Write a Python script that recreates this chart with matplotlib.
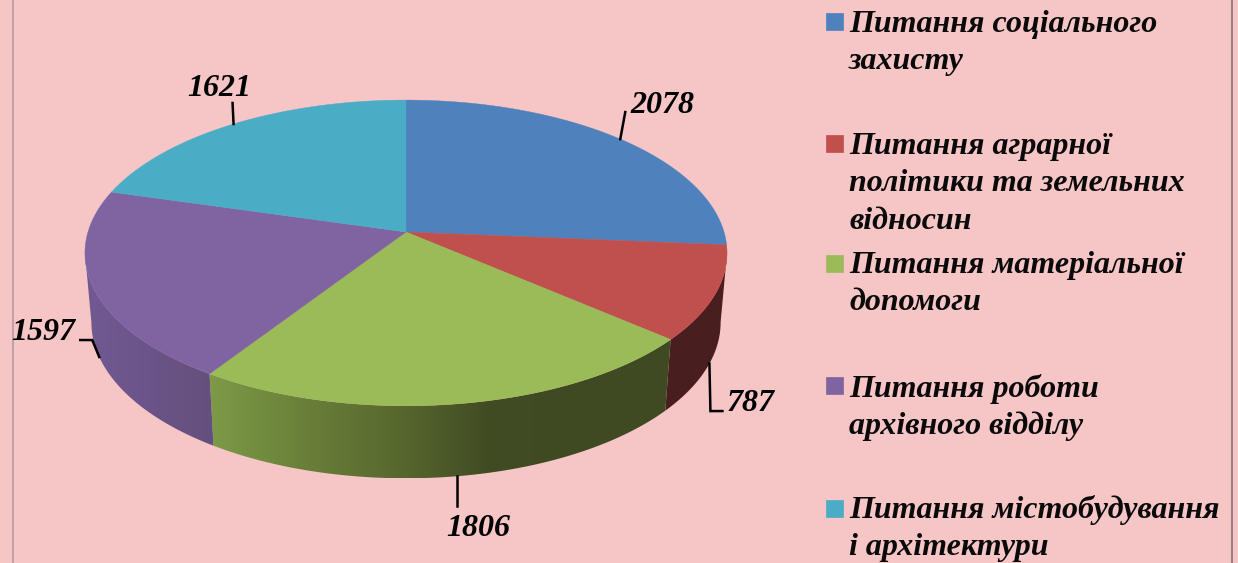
import numpy as np
import matplotlib
matplotlib.use("Agg")
import matplotlib.pyplot as plt
from matplotlib.patches import Polygon, Rectangle
from matplotlib.colors import LinearSegmentedColormap

# ---- data ----
categories = [
    "Питання соціального\nзахисту",
    "Питання аграрної\nполітики та земельних\nвідносин",
    "Питання матеріальної\nдопомоги",
    "Питання роботи\nархівного відділу",
    "Питання містобудування\nі архітектури",
]
values = [2078, 787, 1806, 1597, 1621]

# ---- style ----
top_colors = ["#4F81BD", "#C0504D", "#9BBB59", "#8064A2", "#4BACC6"]
side_stops = [
    ["#3B5F8C", "#3B5F8C"],
    ["#4A1E1E", "#4A1E1E"],
    ["#7D9A48", "#6A8039", "#58692F", "#414C23", "#3F4A23", "#3F4A23"],
    ["#715A92", "#6A5488", "#64507C"],
    ["#3A8296", "#3A8296"],
]
BG = "#F6C5C6"
FONT = "Liberation Serif"
CX, CY, R, H, K = 406, 232, 318, 150, 0.137   # perspective of the pie top
DROP, SHRINK_X, SHRINK_Y = 69, 0.98, 1.02     # depth of the pie wall

fig = plt.figure(figsize=(12.38, 5.63), dpi=100, facecolor=BG)
ax = fig.add_axes([0, 0, 1, 1])
ax.set_xlim(0, 1238)
ax.set_ylim(563, 0)
ax.axis("off")


def project(deg, bottom=False):
    t = np.radians(deg)
    x, y = np.sin(t), np.cos(t)
    d = 1 + K * y
    px, py = R * x / d, -H * y / d
    if bottom:
        return CX + SHRINK_X * px, CY + SHRINK_Y * py + DROP
    return CX + px, CY + py


fractions = np.array(values) / sum(values)
edges = np.concatenate([[0], np.cumsum(fractions) * 360])
mids = (edges[:-1] + edges[1:]) / 2

# angular range of the front wall: between the silhouette tangents
front_start = np.degrees(np.arccos(-K))
front_end = 360 - front_start

# walls, only the part of each slice that faces the viewer
for i in range(len(values)):
    lo, hi = max(edges[i], front_start), min(edges[i + 1], front_end)
    if hi <= lo:
        continue
    a = np.linspace(lo, hi, 200)
    tx, ty = project(a)
    bx, by = project(a, bottom=True)
    pts = np.column_stack([np.r_[tx, bx[::-1]], np.r_[ty, by[::-1]]])
    poly = Polygon(pts, closed=True, fc="none", ec="none", transform=ax.transData)
    ax.add_patch(poly)
    cmap = LinearSegmentedColormap.from_list(f"s{i}", side_stops[i])
    im = ax.imshow(np.linspace(0, 1, 256)[None, :], cmap=cmap, aspect="auto",
                   extent=(pts[:, 0].min(), pts[:, 0].max(), pts[:, 1].max(), pts[:, 1].min()),
                   zorder=2, interpolation="bilinear")
    im.set_clip_path(poly)

ax.set_xlim(0, 1238)
ax.set_ylim(563, 0)

# top face
for i, c in enumerate(top_colors):
    a = np.linspace(edges[i], edges[i + 1], 200)
    tx, ty = project(a)
    ax.add_patch(Polygon(np.column_stack([np.r_[CX, tx], np.r_[CY, ty]]), closed=True,
                         fc=c, ec=c, lw=0.3, zorder=3))

# data labels and leader lines: offsets from the anchor, label position, use of wall edge
label_spec = [
    (False, [(5, -27)], (10, -26)),
    (True, [(1, 47.5), (13, 47.5)], (17, 47.5)),
    (True, [(0, 30)], (-10, 60)),
    (True, [(-7, -17), (-19, -17)], (-88, -17)),
    (False, [(-1, -21)], (-46, -28)),
]
for i, (bottom, offs, lab) in enumerate(label_spec):
    x0, y0 = project(mids[i], bottom=bottom)
    xs = [x0] + [x0 + o[0] for o in offs]
    ys = [y0] + [y0 + o[1] for o in offs]
    ax.plot(xs, ys, color="black", lw=1.8, zorder=4, solid_joinstyle="miter")
    ax.text(x0 + lab[0], y0 + lab[1], str(values[i]), family=FONT, style="italic", weight="bold",
            fontsize=23, color="black", ha="left", va="baseline", zorder=5)

# legend
square_top = [13, 135, 255, 377, 500]
first_base = [32, 154, 273, 397, 518]
for i, label in enumerate(categories):
    ax.add_patch(Rectangle((826, square_top[i]), 17, 17, fc=top_colors[i], ec=top_colors[i],
                           lw=0.5, zorder=3))
    for j, line in enumerate(label.split("\n")):
        ax.text(849, first_base[i] + j * 37.3, line, family=FONT, style="italic", weight="bold",
                fontsize=23, color="#0A0A0A", ha="left", va="baseline", zorder=5)

# frame lines of the slide
ax.plot([12.5, 12.5], [0, 563], color="#B39B9D", lw=1.2, zorder=1)
ax.plot([1232, 1232], [0, 563], color="#9A8385", lw=1.5, zorder=1)

fig.savefig("out.png", dpi=100, facecolor=BG)
